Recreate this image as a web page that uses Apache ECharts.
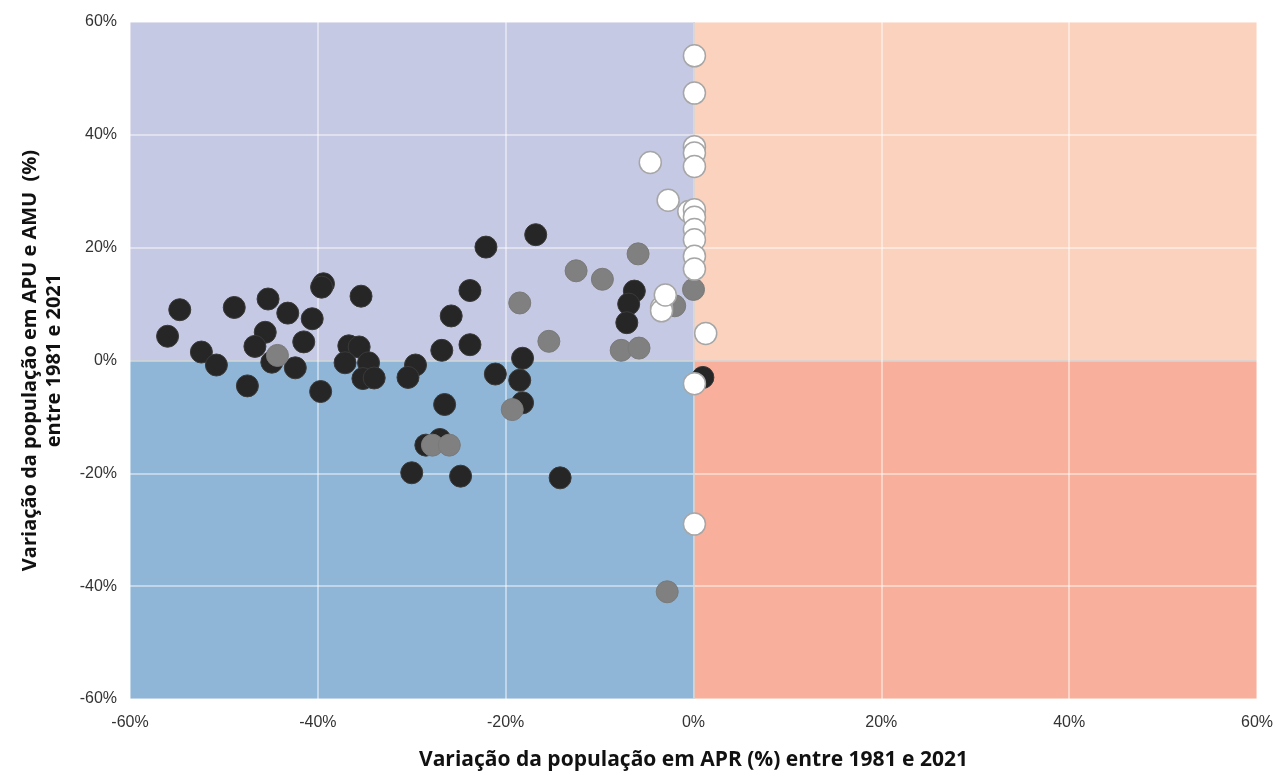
<!DOCTYPE html>
<html>
<head>
<meta charset="utf-8">
<script src="https://cdn.jsdelivr.net/npm/echarts@6/dist/echarts.min.js"></script>
<style>
  html, body { margin: 0; padding: 0; background: #fff; }
  #chart { width: 1276px; height: 777px; }
</style>
</head>
<body>
<div id="chart"></div>
<script>
// [APR change %, APU+AMU change %]
var darkPoints = [
  [-54.7, 9.0], [-56.0, 4.3], [-52.4, 1.5], [-50.8, -0.8], [-48.9, 9.4], [-47.5, -4.5],
  [-45.3, 10.9], [-45.6, 5.0], [-46.7, 2.5], [-44.9, -0.3], [-43.2, 8.4], [-40.6, 7.4],
  [-41.5, 3.3], [-42.4, -1.3], [-39.4, 13.6], [-39.6, 13.0], [-39.7, -5.5], [-35.4, 11.4],
  [-36.7, 2.6], [-35.6, 2.4], [-37.1, -0.4], [-34.6, -0.4], [-35.2, -3.2], [-34.0, -3.1],
  [-29.6, -0.8], [-30.4, -3.0], [-16.8, 22.3], [-22.1, 20.1], [-23.8, 12.4], [-25.8, 7.9],
  [-26.8, 1.8], [-23.8, 2.8], [-21.1, -2.4], [-18.2, 0.4], [-18.5, -3.5], [-18.2, -7.5],
  [-26.5, -7.8], [-28.5, -15.0], [-27.0, -14.0], [-30.0, -19.9], [-24.8, -20.5], [-14.2, -20.8],
  [-6.3, 12.3], [-6.9, 10.0], [-7.1, 6.7], [1.0, -3.0]
];
var greyPoints = [
  [-44.3, 0.9], [-19.3, -8.7], [-27.8, -15.0], [-26.0, -15.0], [-18.5, 10.2], [-15.4, 3.4],
  [-12.5, 15.9], [-9.7, 14.4], [-5.9, 18.9], [-7.7, 1.8], [-5.8, 2.2], [-2.0, 9.7],
  [0.0, 12.6], [-2.8, -41.0]
];
var whitePoints = [
  [0.1, 54.0], [0.1, 47.4], [0.1, 37.9], [0.1, 36.8], [0.1, 34.4], [-4.6, 35.1],
  [-2.7, 28.4], [-0.5, 26.4], [0.1, 26.7], [0.1, 25.4], [0.1, 23.2], [0.1, 21.4],
  [0.1, 18.5], [0.1, 16.2], [1.3, 4.8], [-3.4, 9.4], [-3.4, 8.8], [-3.0, 11.6],
  [0.1, -4.1], [0.1, -29.0]
];
var axisMin = -60, axisMax = 60, axisStep = 20;
var xTitle = 'Variação da população em APR (%) entre 1981 e 2021';
var yTitle = 'Variação da população em APU e AMU  (%)\nentre 1981 e 2021';

var gridColors = ['rgba(255,255,255,0.6)', 'rgba(255,255,255,0.6)', 'rgba(255,255,255,0.6)',
  '#d6d6d6', 'rgba(255,255,255,0.6)', 'rgba(255,255,255,0.6)', 'rgba(255,255,255,0.6)'];

var chart = echarts.init(document.getElementById('chart'));
var option = {
  animation: false,
  grid: { left: 130, right: 17, top: 22, bottom: 78 },
  xAxis: {
    type: 'value', min: axisMin, max: axisMax, interval: axisStep, z: 2,
    axisLine: { show: false }, axisTick: { show: false },
    axisLabel: { formatter: '{value}%', color: '#333', fontFamily: 'Liberation Sans', fontSize: 16, margin: 16 },
    splitLine: { show: true, lineStyle: { color: gridColors, width: 1.5 } },
    name: xTitle, nameLocation: 'middle', nameGap: 51,
    nameTextStyle: { fontFamily: 'Open Sans', fontWeight: 'bold', fontSize: 21, color: '#111' }
  },
  yAxis: {
    type: 'value', min: axisMin, max: axisMax, interval: axisStep, z: 2,
    axisLine: { show: false }, axisTick: { show: false },
    axisLabel: { formatter: '{value}%', color: '#333', fontFamily: 'Liberation Sans', fontSize: 16, margin: 13 },
    splitLine: { show: true, lineStyle: { color: gridColors, width: 1.5 } },
    name: yTitle, nameLocation: 'middle', nameGap: 64, nameRotate: 90,
    nameTextStyle: { fontFamily: 'Open Sans', fontWeight: 'bold', fontSize: 20, color: '#111', lineHeight: 24 }
  },
  series: [
    {
      name: 'Quadrantes', type: 'scatter', data: [], z: 1, silent: true,
      markArea: {
        silent: true,
        label: { show: false },
        data: [
          [{ xAxis: axisMin, yAxis: 0, itemStyle: { color: '#c5c9e3' } }, { xAxis: 0, yAxis: axisMax }],
          [{ xAxis: axisMin, yAxis: axisMin, itemStyle: { color: '#8fb6d7' } }, { xAxis: 0, yAxis: 0 }],
          [{ xAxis: 0, yAxis: 0, itemStyle: { color: '#fbd2be' } }, { xAxis: axisMax, yAxis: axisMax }],
          [{ xAxis: 0, yAxis: axisMin, itemStyle: { color: '#f8af9b' } }, { xAxis: axisMax, yAxis: 0 }]
        ]
      }
    },
    {
      name: 'dark', type: 'scatter', z: 5, symbolSize: 22, data: darkPoints,
      itemStyle: { color: '#262626', borderColor: '#3a3a3a', borderWidth: 1, opacity: 1 }
    },
    {
      name: 'grey', type: 'scatter', z: 6, symbolSize: 22, data: greyPoints,
      itemStyle: { color: '#808080', borderColor: '#7a7a7a', borderWidth: 1, opacity: 1 }
    },
    {
      name: 'white', type: 'scatter', z: 7, symbolSize: 22, data: whitePoints,
      itemStyle: { color: '#ffffff', borderColor: '#a6a6a6', borderWidth: 1.5, opacity: 1 }
    }
  ]
};
chart.setOption(option);
window.addEventListener('resize', function() {
  chart.resize();
});
</script>
</body>
</html>
